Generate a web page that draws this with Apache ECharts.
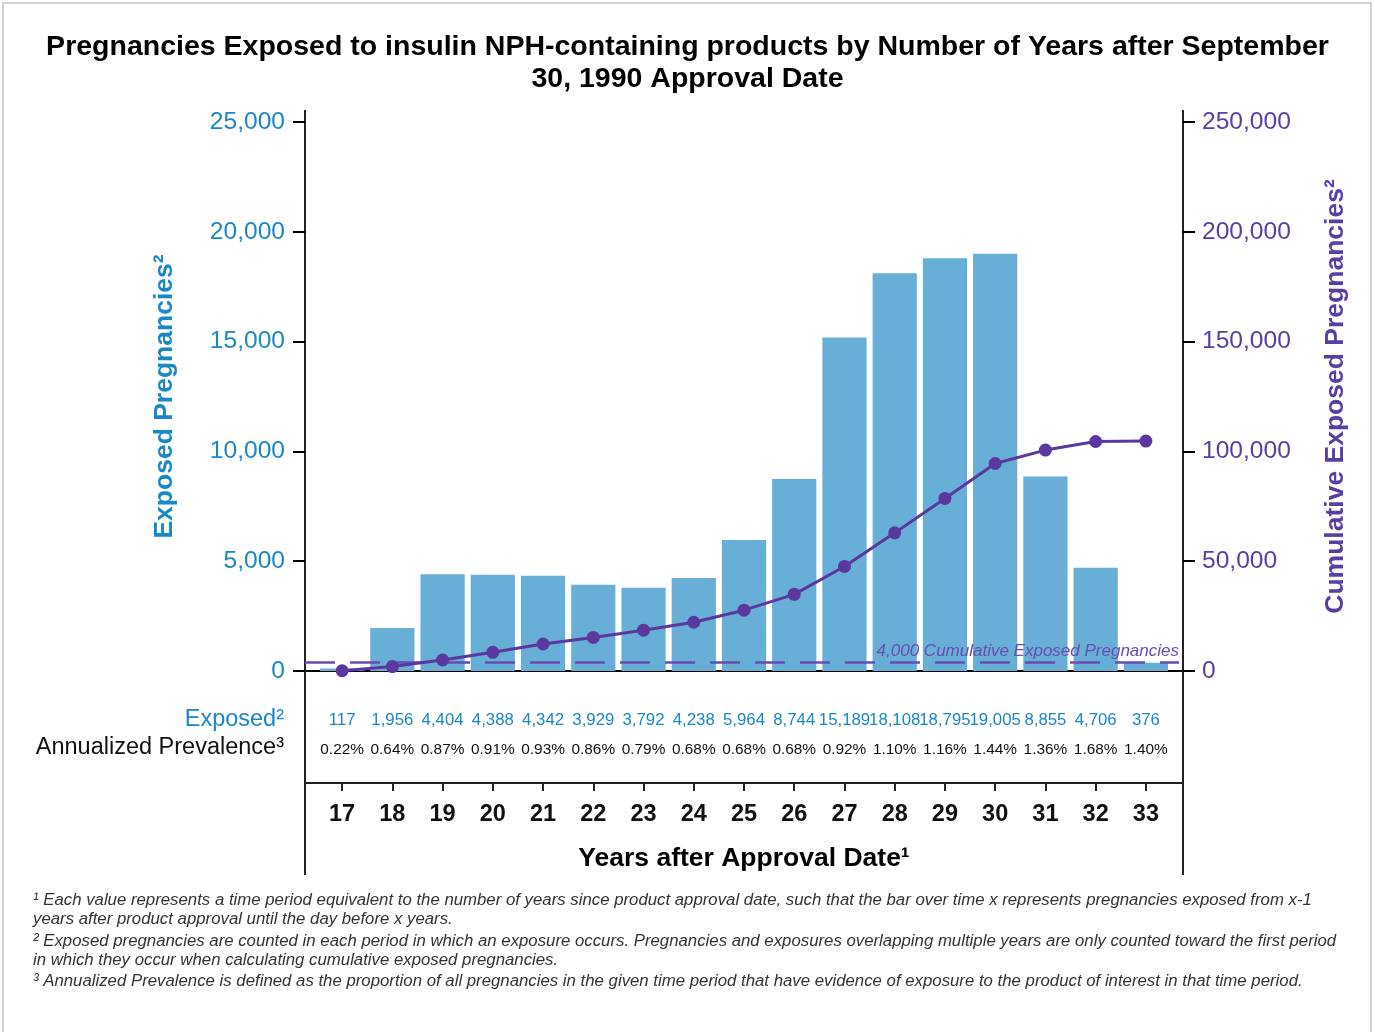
<!DOCTYPE html>
<html>
<head>
<meta charset="utf-8">
<title>Pregnancies Exposed to insulin NPH-containing products</title>
<script src="https://cdn.jsdelivr.net/npm/echarts@6/dist/echarts.min.js"></script>
<style>
    html, body { margin: 0; padding: 0; background: #fff; }
    #chart { width: 1375px; height: 1032px; }
</style>
</head>
<body>
<div id="chart"></div>
<script>
    // years after approval (x categories)
    const years = ['17', '18', '19', '20', '21', '22', '23', '24', '25', '26', '27', '28', '29', '30', '31', '32', '33'];
    // exposed pregnancies per period (bars, left axis)
    const exposed = [117, 1956, 4404, 4388, 4342, 3929, 3792, 4238, 5964, 8744, 15189, 18108, 18795, 19005, 8855, 4706, 376];
    // annualized prevalence row
    const prevalence = ['0.22%', '0.64%', '0.87%', '0.91%', '0.93%', '0.86%', '0.79%', '0.68%', '0.68%', '0.68%', '0.92%', '1.10%', '1.16%', '1.44%', '1.36%', '1.68%', '1.40%'];
    // cumulative exposed pregnancies (line, right axis)
    const cumulative = [117, 2000, 5000, 8500, 12300, 15300, 18600, 22200, 27700, 34900, 47600, 62900, 78600, 94500, 100600, 104500, 104700];
    const threshold = 4000;

    const footnotes = [
        '¹ Each value represents a time period equivalent to the number of years since product approval date, such that the bar over time x represents pregnancies exposed from x-1',
        'years after product approval until the day before x years.',
        '² Exposed pregnancies are counted in each period in which an exposure occurs. Pregnancies and exposures overlapping multiple years are only counted toward the first period',
        'in which they occur when calculating cumulative exposed pregnancies.',
        '³ Annualized Prevalence is defined as the proportion of all pregnancies in the given time period that have evidence of exposure to the product of interest in that time period.'
    ];
    const footY = [900, 919, 941, 960, 981];

    const FONT = '"Liberation Sans", Arial, Helvetica, sans-serif';
    const BLUE = '#1a87c6';
    const BAR = '#67afd7';
    const PURPLE = '#5a3ea5';
    const LINE = '#5b37a0';
    const DASH = '#6a4cb0';

    // frame: y axes sit 12px outside the category range
    const frameL = 305, frameR = 1183, pad = 12;
    const plotTop = 122, plotBottom = 671, tableLine = 783;

    const fmt = n => n.toLocaleString('en-US');

    const chart = echarts.init(document.getElementById('chart'));

    const graphics = [
        {
            type: 'rect',
            shape: {x: 3, y: 3, width: 1368, height: 1040},
            style: {fill: 'none', stroke: '#d4d4d4', lineWidth: 2},
            silent: true
        },
        {type: 'line', shape: {x1: frameL, y1: 110, x2: frameL, y2: 875}, style: {stroke: '#222', lineWidth: 2}},
        {type: 'line', shape: {x1: frameR, y1: 110, x2: frameR, y2: 875}, style: {stroke: '#222', lineWidth: 2}},
        {type: 'line', shape: {x1: frameL, y1: plotBottom, x2: frameR, y2: plotBottom}, style: {stroke: '#000', lineWidth: 2}},
        {type: 'line', shape: {x1: frameL, y1: tableLine, x2: frameR, y2: tableLine}, style: {stroke: '#222', lineWidth: 2}},
        {
            type: 'text', x: 284, y: 720,
            style: {text: 'Exposed²', fill: BLUE, font: '23.5px ' + FONT, textAlign: 'right', textVerticalAlign: 'middle'}
        },
        {
            type: 'text', x: 284, y: 748,
            style: {text: 'Annualized Prevalence³', fill: '#111', font: '23.5px ' + FONT, textAlign: 'right', textVerticalAlign: 'middle'}
        }
    ];
    footnotes.forEach((t, i) => {
        graphics.push({
            type: 'text', x: 33, y: footY[i],
            style: {text: t, fill: '#333', font: 'italic 16.8px ' + FONT, textVerticalAlign: 'middle'}
        });
    });

    chart.setOption({
        backgroundColor: '#fff',
        animation: false,
        textStyle: {fontFamily: FONT},
        title: {
            text: 'Pregnancies Exposed to insulin NPH-containing products by Number of Years after September\n30, 1990 Approval Date',
            left: 'center',
            top: 26,
            textStyle: {fontSize: 28.5, fontWeight: 'bold', color: '#000', lineHeight: 32, fontFamily: FONT}
        },
        grid: {left: frameL + pad, right: 1375 - frameR + pad, top: plotTop, bottom: 1032 - plotBottom},
        xAxis: [{
            type: 'category',
            data: years,
            position: 'bottom',
            axisLine: {show: false},
            axisTick: {show: false},
            axisLabel: {
                interval: 0,
                margin: 35,
                formatter: (v, i) => '{a|' + fmt(exposed[i]) + '}\n{b|' + prevalence[i] + '}',
                rich: {
                    a: {color: BLUE, fontSize: 16.8, lineHeight: 29, fontFamily: FONT},
                    b: {color: '#111', fontSize: 15.4, lineHeight: 29, fontFamily: FONT}
                }
            }
        }, {
            type: 'category',
            data: years,
            position: 'bottom',
            offset: tableLine - plotBottom,
            axisLine: {show: true, onZero: false, lineStyle: {color: '#222', width: 2}},
            axisTick: {show: true, alignWithLabel: true, length: 8, lineStyle: {color: '#222', width: 2}},
            axisLabel: {interval: 0, margin: 20, fontSize: 23.5, fontWeight: 'bold', color: '#111'},
            name: 'Years after Approval Date¹',
            nameLocation: 'middle',
            nameGap: 62,
            nameTextStyle: {fontSize: 26.5, fontWeight: 'bold', color: '#000'}
        }],
        yAxis: [{
            type: 'value',
            min: 0,
            max: 25000,
            interval: 5000,
            position: 'left',
            offset: pad,
            axisLine: {show: false},
            axisTick: {show: true, length: 12, lineStyle: {color: '#000', width: 2}},
            axisLabel: {margin: 20, fontSize: 24.6, color: BLUE, formatter: v => fmt(v)},
            splitLine: {show: false},
            name: 'Exposed Pregnancies²',
            nameLocation: 'middle',
            nameRotate: 90,
            nameGap: 127,
            nameTextStyle: {fontSize: 26.5, fontWeight: 'bold', color: BLUE}
        }, {
            type: 'value',
            min: 0,
            max: 250000,
            interval: 50000,
            position: 'right',
            offset: pad,
            axisLine: {show: false},
            axisTick: {show: true, length: 12, lineStyle: {color: '#000', width: 2}},
            axisLabel: {margin: 19, fontSize: 24.6, color: PURPLE, formatter: v => fmt(v)},
            splitLine: {show: false},
            name: 'Cumulative Exposed Pregnancies²',
            nameLocation: 'middle',
            nameRotate: 90,
            nameGap: 139,
            nameTextStyle: {fontSize: 26.5, fontWeight: 'bold', color: PURPLE}
        }],
        series: [{
            name: 'Exposed',
            type: 'bar',
            xAxisIndex: 0,
            yAxisIndex: 0,
            data: exposed,
            barCategoryGap: '12%',
            itemStyle: {color: BAR}
        }, {
            name: 'Cumulative',
            type: 'line',
            xAxisIndex: 0,
            yAxisIndex: 1,
            data: cumulative,
            symbol: 'circle',
            symbolSize: 13,
            lineStyle: {color: LINE, width: 3},
            itemStyle: {color: LINE},
            z: 5,
            markLine: {
                silent: true,
                symbol: 'none',
                data: [[{yAxis: threshold, x: frameL}, {yAxis: threshold, x: frameR - 4}]],
                lineStyle: {color: DASH, width: 2.5, type: [30, 15]},
                label: {
                    show: true,
                    position: 'insideEndTop',
                    distance: [0, 2],
                    formatter: fmt(threshold) + ' Cumulative Exposed Pregnancies',
                    fontStyle: 'italic',
                    fontSize: 17,
                    color: DASH
                }
            }
        }],
        graphic: graphics
    });
</script>
</body>
</html>
